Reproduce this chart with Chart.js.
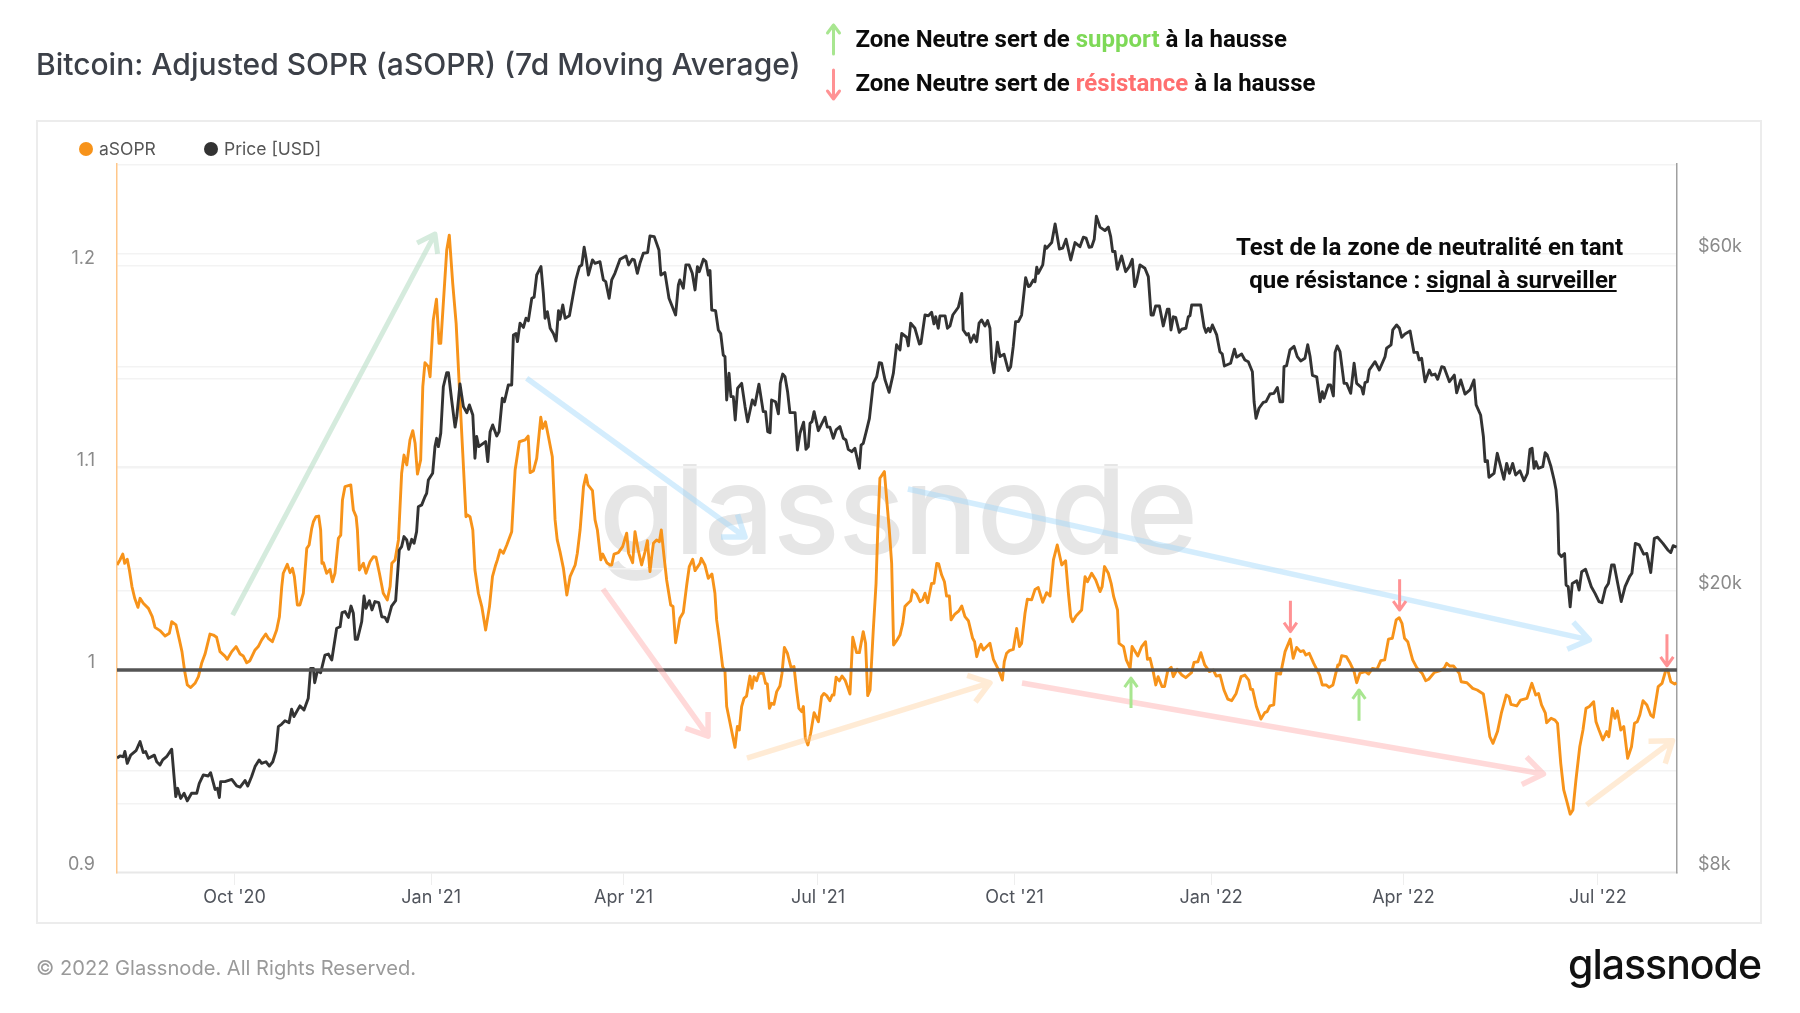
<!DOCTYPE html>
<html lang="fr"><head><meta charset="utf-8">
<title>Bitcoin: Adjusted SOPR (aSOPR)</title>
<script src="https://cdn.jsdelivr.net/npm/chart.js@4"></script>
<style>
html,body{margin:0;padding:0;background:#fff;width:1800px;height:1013px;overflow:hidden}
body{position:relative;font-family:Inter,sans-serif}
.abs{position:absolute;white-space:nowrap;line-height:1}
#frame{position:absolute;left:36px;top:120px;border:2px solid #ececec;box-sizing:content-box;width:1722px;height:800px}
#title{left:36px;top:49px;font-size:30px;font-weight:500;color:#3c4048}
.note{font-family:Roboto,sans-serif;font-weight:700;font-size:24px;color:#0b0b0b}
#watermark{left:599px;top:447px;font-size:124px;font-weight:500;color:#e6e6e6;letter-spacing:-1.5px}
#foot{left:36px;top:958px;font-size:20.1px;color:#9a9a9a}
#logo{left:1568px;top:944px;font-size:41px;font-weight:500;color:#111;letter-spacing:-1px}
.leg{font-size:17.5px;color:#555;top:140px}
.dot{position:absolute;width:14px;height:14px;border-radius:50%;top:142px}
canvas{position:absolute;left:0;top:0}
svg{position:absolute;left:0;top:0}
</style></head><body>
<div id="frame"></div>
<div class="abs" id="watermark">glassnode</div>
<canvas id="c" width="1800" height="1013"></canvas>
<div class="abs" id="title">Bitcoin: Adjusted SOPR (aSOPR) (7d Moving Average)</div>
<svg width="1800" height="110" fill="none" stroke-linecap="round" stroke-linejoin="round" stroke-width="3">
<path d="M833.5 54V25M827.5 33L833.5 25L839.5 33" stroke="#a8e690"/>
<path d="M833.5 70V99M827.5 91L833.5 99L839.5 91" stroke="#ff9294"/>
</svg>
<div class="abs note" style="left:855.4px;top:27px">Zone Neutre sert de <span style="color:#7ed957">support</span> à la hausse</div>
<div class="abs note" style="left:855.4px;top:71px">Zone Neutre sert de <span style="color:#ff6f6f">résistance</span> à la hausse</div>
<div class="abs note" style="left:1236px;top:235px;letter-spacing:.06px">Test de la zone de neutralité en tant</div>
<div class="abs note" style="left:1249.3px;top:268px">que résistance : <u>signal à surveiller</u></div>
<div class="dot" style="left:79px;background:#f7931a"></div><div class="abs leg" style="left:99px">aSOPR</div>
<div class="dot" style="left:204px;background:#333"></div><div class="abs leg" style="left:224px">Price [USD]</div>
<div class="abs" id="foot">© 2022 Glassnode. All Rights Reserved.</div>
<div class="abs" id="logo">glassnode</div>
<script>
const xTickDays=[55,147,237,328,420,512,602,693];
const xTickLabels=["Oct '20","Jan '21","Apr '21","Jul '21","Oct '21","Jan '22","Apr '22","Jul '22"];
const soprTicks=[0.9,0.95,1,1.05,1.1,1.15,1.2,1.25];
const soprTickLabels={0.9:'0.9',1:'1',1.1:'1.1',1.2:'1.2'};
const priceTicks=[8000,10000,20000,30000,40000,60000];
const priceTickLabels={8000:'$8k',20000:'$20k',60000:'$60k'};
const neutralLevel=1;
// [day since 7 Aug 2020, aSOPR]
const asoprSeries=[[0,1.052],[1.4,1.0545],[2.7,1.0574],[3.6,1.0528],[4.8,1.0548],[5.8,1.0495],[7,1.0413],[8.3,1.0355],[9.8,1.031],[10.8,1.0355],[12.3,1.033],[14.7,1.0305],[16.5,1.0264],[17.8,1.0211],[20.1,1.0195],[22.5,1.0168],[24.5,1.0182],[25.6,1.0239],[27.6,1.0223],[29.2,1.0149],[30.4,1.0091],[31.7,0.9992],[32.9,0.9926],[34.5,0.9913],[36.5,0.9934],[38.1,0.9967],[39.6,1.0033],[41.2,1.0079],[43.5,1.0178],[45.1,1.0173],[46.6,1.0162],[48.2,1.0091],[50.5,1.0069],[51.6,1.0053],[53.7,1.0091],[55.7,1.0116],[57.6,1.0079],[59.1,1.0069],[60.7,1.0036],[62.2,1.0046],[64.6,1.0099],[66.1,1.0116],[67.7,1.0149],[69.6,1.0178],[70.8,1.0157],[72.7,1.014],[74.7,1.0198],[76,1.0264],[77.1,1.0413],[77.8,1.0479],[79.7,1.0523],[81,1.0482],[82.1,1.0503],[83,1.0462],[84.4,1.0322],[85.6,1.0322],[87.2,1.038],[88.8,1.0602],[89.9,1.0619],[91.1,1.07],[91.9,1.0734],[93.1,1.0759],[94.4,1.0762],[95.3,1.0693],[95.9,1.0528],[96.6,1.0531],[98.1,1.0479],[99.7,1.0498],[100.8,1.0437],[102,1.0479],[103.6,1.0652],[104.7,1.0668],[105.5,1.0842],[106.7,1.0908],[109.4,1.0916],[110.6,1.0792],[111.9,1.0759],[112.5,1.0693],[113.4,1.0495],[115.3,1.0528],[116.5,1.0479],[118.4,1.0536],[120,1.0561],[121.2,1.0558],[122.8,1.0479],[124.6,1.038],[126.5,1.0347],[127.8,1.0413],[128.6,1.0528],[130.1,1.0545],[131.7,1.0644],[133.2,1.0974],[134.3,1.1064],[135.6,1.1015],[137.1,1.1139],[138.4,1.1185],[139.5,1.1122],[140.6,1.097],[142.1,1.104],[143.1,1.1403],[144.1,1.1521],[145.7,1.1502],[146.5,1.1452],[148,1.1733],[149.5,1.1836],[150.7,1.1617],[151.5,1.1617],[152.7,1.1815],[154.3,1.2079],[155.5,1.2153],[157.1,1.1914],[158.7,1.1716],[160.2,1.1403],[161.8,1.1073],[163.3,1.0759],[164,1.0767],[165.2,1.0759],[166.5,1.0693],[167.5,1.0495],[169.1,1.038],[170.7,1.0314],[172.5,1.0198],[174.3,1.0314],[175.7,1.0462],[177.2,1.052],[178,1.0545],[179.3,1.0594],[180.8,1.0578],[182.4,1.0619],[184.7,1.0685],[186.3,1.099],[188.3,1.113],[191,1.1139],[192.4,1.1158],[193.3,1.0977],[194.9,1.0987],[196.4,1.1048],[198.3,1.1251],[199.2,1.1196],[200.5,1.1229],[201.9,1.1155],[203.7,1.1056],[205,1.0743],[206,1.0644],[207.3,1.0586],[208.9,1.0503],[210.5,1.0371],[212,1.0462],[214.4,1.052],[215.4,1.0578],[216.7,1.0693],[218.3,1.0908],[219.5,1.0965],[220.4,1.0916],[222.5,1.0888],[223.7,1.0743],[224.8,1.0693],[226.4,1.0545],[227.3,1.0574],[229.2,1.0531],[230.7,1.052],[231.5,1.052],[232.6,1.0574],[234.6,1.0581],[236.6,1.0611],[238.5,1.0677],[239.4,1.0578],[241.3,1.0531],[242.4,1.0685],[243.9,1.0594],[245.5,1.052],[247.1,1.0586],[248.2,1.064],[249.4,1.0487],[251,1.0627],[252.5,1.0644],[253.8,1.0635],[254.7,1.0693],[256,1.0561],[257.2,1.0446],[259.1,1.0322],[260.2,1.0314],[261.4,1.0135],[263.4,1.0256],[265,1.0285],[266.6,1.0421],[267.8,1.0512],[269.4,1.0548],[270.5,1.0492],[272.8,1.0528],[273.4,1.0553],[275.1,1.052],[276.7,1.0454],[278.4,1.0475],[279.8,1.038],[280.6,1.0248],[281.9,1.0149],[283.4,1.0017],[284.5,0.9992],[285.3,0.9819],[287.2,0.972],[289.2,0.9617],[290.3,0.972],[291.2,0.9703],[292.3,0.9819],[293.4,0.986],[294.6,0.9871],[296.2,0.997],[297.1,0.9909],[298.1,0.9967],[299.3,0.9947],[300.4,0.9984],[302.4,0.9984],[303.5,0.9934],[304.3,0.9931],[305.3,0.981],[306.3,0.9835],[307.4,0.983],[308.7,0.9893],[310.2,0.9921],[311.2,0.9984],[312.3,1.0112],[313.7,1.0083],[315.4,1.0013],[316.8,1.0017],[318,0.9901],[319.1,0.981],[320.4,0.9794],[321.2,0.9819],[322.1,0.9662],[323.3,0.9629],[324.6,0.9687],[326.2,0.9789],[328.2,0.9744],[329.7,0.9868],[330.8,0.9884],[332.1,0.9873],[333.6,0.9848],[334.7,0.9876],[335.5,0.9876],[336.5,0.9964],[338,0.9946],[339.3,0.997],[340.7,0.995],[341.8,0.9918],[343,0.9881],[344.3,1.0162],[346.1,1.0086],[347.4,1.0086],[349.2,1.019],[350.3,1.0132],[351.3,0.9873],[352.4,0.9901],[353.9,1.0198],[355.2,1.0429],[356,1.0693],[357,1.0949],[359.1,1.0982],[360.2,1.0842],[361.4,1.0693],[362.5,1.0528],[363.4,1.0124],[364.8,1.0145],[366.4,1.0173],[367.7,1.0231],[368.7,1.0314],[369.8,1.0327],[371.4,1.0343],[372.3,1.0396],[374.2,1.0376],[375.8,1.0338],[377,1.0347],[378.1,1.038],[379.4,1.0333],[381.2,1.0429],[382.3,1.0429],[383.6,1.0528],[384.5,1.0525],[385.9,1.047],[387.2,1.0437],[388.2,1.0366],[389.5,1.0366],[390.3,1.0248],[392.1,1.0277],[393.9,1.0292],[395.3,1.0317],[396.8,1.0264],[398.4,1.0244],[400.4,1.0157],[401.3,1.014],[402.3,1.0066],[403.4,1.0107],[404.3,1.0127],[405.4,1.0099],[407,1.0116],[408.5,1.0132],[410.1,1.0053],[412.4,1.0003],[414.3,0.995],[415.2,1.0041],[416.3,1.0083],[417.6,1.0096],[419.4,1.0102],[421,1.0206],[422.3,1.0116],[423.3,1.0132],[424.9,1.0281],[426,1.035],[428,1.0347],[429.6,1.0399],[431.1,1.0408],[433.2,1.0335],[435,1.0383],[436.6,1.0366],[438.2,1.0545],[440,1.0619],[442.1,1.052],[443.9,1.0541],[445.2,1.038],[446.3,1.0264],[447.2,1.0239],[448.8,1.0267],[451.4,1.0297],[453,1.0462],[454.1,1.0437],[456.1,1.0479],[458,1.0446],[460,1.0388],[461,1.0413],[462.1,1.0512],[463.9,1.0479],[465.2,1.0429],[466.4,1.0363],[468.2,1.0297],[468.9,1.0132],[471,1.0116],[472.3,1.005],[474.1,1.0008],[475,1.0116],[477.7,1.0069],[479.5,1.0116],[481.3,1.014],[482.2,1.0053],[483.4,1.0058],[484.9,0.9992],[486.1,0.9926],[487.2,0.9967],[489,0.9918],[490.2,0.9918],[491.7,0.9997],[493.3,1.0013],[494.3,0.9967],[496.1,1.0003],[498.3,0.9975],[500.1,0.9962],[502.8,0.9987],[504,1.0038],[505.8,1.0041],[507.2,1.0086],[509,1.0025],[511.2,0.9992],[513,1],[514.4,0.997],[516.2,0.9974],[518,0.9901],[519.8,0.9856],[521.6,0.9848],[523.7,0.9884],[526,0.9967],[527.8,0.9975],[529.6,0.995],[530.5,0.9904],[531.4,0.9904],[533.2,0.9819],[535.3,0.9757],[537.1,0.9789],[538.2,0.9794],[539.5,0.9822],[541.3,0.9827],[542.5,0.9984],[544.5,0.998],[546.6,1.0091],[549,1.0153],[550.4,1.0058],[552,1.0112],[553.8,1.0091],[555.2,1.0096],[556.3,1.0074],[557.9,1.0083],[560,1.0033],[562.8,0.9975],[564,0.9926],[565.8,0.9926],[567.2,0.9914],[569,0.9926],[571.3,1.0025],[572,1.0025],[573.1,1.0071],[575.3,1.0066],[577.1,1.0033],[578.9,0.9992],[580.1,0.9937],[581.6,0.9984],[584.2,0.9992],[585.7,0.998],[587.5,1.0008],[589.6,1.0003],[591.4,1.0046],[593.2,1.005],[595,1.0153],[596.8,1.0157],[598.6,1.0248],[600,1.0259],[601.3,1.0231],[602.5,1.0157],[604,1.014],[606.3,1.005],[608.4,1.0008],[610.7,0.9984],[612.4,0.9947],[613.8,0.9954],[616.5,0.9988],[619.2,0.9997],[621,1.0008],[622.2,1.0033],[623.6,1.002],[625.4,1.002],[628.1,0.9984],[629,0.9942],[631.7,0.9937],[634.4,0.9909],[636.5,0.9901],[639.4,0.9881],[640.7,0.9794],[642.4,0.967],[643.9,0.9637],[646,0.9695],[647.8,0.9786],[650.1,0.9876],[651.4,0.9868],[652.3,0.983],[655,0.9822],[656.8,0.9851],[659.8,0.986],[662.1,0.9934],[663.9,0.9876],[665.2,0.9884],[666.6,0.9827],[668.4,0.9786],[669,0.9739],[671.1,0.9761],[672.9,0.9752],[674.1,0.9736],[675.6,0.9538],[677,0.9406],[678.3,0.9356],[680,0.9286],[681.3,0.9307],[682.7,0.9455],[684.5,0.962],[686,0.9703],[687.4,0.981],[689,0.9819],[691,0.9843],[692.1,0.9744],[693.5,0.9703],[695.3,0.9654],[697.1,0.9695],[698.1,0.967],[699.8,0.981],[701,0.9761],[702.1,0.9797],[703.7,0.9703],[705.1,0.972],[706.9,0.9563],[708.7,0.962],[710.1,0.9736],[711.4,0.9744],[712.6,0.9777],[714.1,0.9848],[715.9,0.9827],[717.7,0.9777],[718.9,0.9766],[721.2,0.9918],[723,0.9934],[724.8,1],[725.7,1],[727.1,0.9942],[728.9,0.9931],[729.8,0.9937]];
// [day since 7 Aug 2020, price in USD]
const priceSeries=[[0,11602],[1.4,11680],[3,11650],[3.7,11850],[4.8,11400],[6.4,11710],[8.9,11880],[10.8,12240],[12.3,11810],[13.4,11850],[14.7,11590],[17.5,11710],[18.6,11460],[20.1,11340],[21.4,11530],[23.2,11650],[25.6,11940],[27.5,10230],[28.4,10510],[29.8,10170],[31.4,10340],[32.9,10090],[34.9,10340],[37.3,10340],[38.5,10680],[40.4,10980],[42.7,10940],[43.8,11060],[45.9,10470],[47,10510],[47.9,10200],[48.5,10740],[50.5,10740],[53.7,10820],[56,10590],[57.6,10550],[59.9,10780],[61.2,10590],[63,10920],[64.6,11280],[66.5,11530],[67.7,11400],[69.7,11460],[71.3,11300],[72.9,11460],[74.4,11880],[75.5,12850],[77.1,12960],[78.6,13100],[80.5,13020],[81.7,13600],[82.8,13280],[85.6,13750],[87.5,13570],[89.5,14100],[90.6,15540],[91.9,15540],[92.5,14830],[93.8,15420],[95.3,15320],[97.3,16230],[98.9,16280],[100.5,15970],[102.8,17710],[104.4,17800],[105.3,18640],[106.7,18700],[108.3,18350],[109.5,19040],[110.6,18600],[111.5,17080],[112.5,17080],[114.5,18090],[115.6,19680],[116.5,18900],[118.1,19380],[119.3,18800],[120.7,19320],[122.5,19250],[123.9,18390],[125.4,18350],[126.5,18090],[128.5,19040],[130.4,19380],[132.1,22860],[133.2,23110],[134.3,23880],[135.6,23620],[136.5,22910],[137.9,23670],[139,23360],[140.2,24270],[141,26320],[142.6,26480],[144.1,27190],[144.9,27490],[145.7,28720],[147.7,29350],[148.8,32020],[149.6,32900],[150.4,32020],[151.5,33440],[152.7,38920],[154.3,40750],[155.1,40750],[156.6,37280],[158.2,34120],[159,35310],[160.5,39280],[162.1,36480],[163.7,35760],[164.9,36680],[166.5,35500],[167.5,30830],[168.3,33090],[169.3,32020],[172.5,32550],[173.5,30490],[174.6,33620],[175.8,34370],[177.7,33150],[178.8,33620],[180.3,37490],[181.3,37070],[183.1,39140],[184.7,39140],[185.5,46090],[186.7,46300],[187.4,45090],[188.6,47890],[190.2,47230],[191.4,48670],[192.5,48290],[194.1,51950],[195.2,52130],[196.4,56040],[198.4,57590],[199.5,52800],[200.3,48670],[201.4,49720],[202.7,47100],[204.2,46300],[205.5,45190],[206.6,49890],[207.3,48500],[208.6,50820],[209.7,48670],[211.7,49050],[213.3,52240],[214.7,55140],[216.4,57590],[217.5,57900],[218.6,61340],[219.5,59180],[220.6,56040],[222.5,58850],[223.7,58210],[226,58530],[227.6,55140],[228.7,54830],[230.3,51950],[231.5,55140],[233,56340],[235.4,58990],[238.2,59630],[239.4,57910],[241.1,58990],[242.1,58850],[243.5,56340],[244.7,58210],[246.3,60150],[248.3,60280],[249.4,63650],[251.4,63500],[253.6,60800],[254.5,56040],[256.4,56470],[258.3,51950],[261.4,49180],[262.7,54250],[263.4,55140],[265,53670],[266.2,57910],[267.7,57910],[269.2,56340],[270.5,53370],[271.6,57590],[272.5,56650],[274.4,58990],[275.6,58530],[276.7,56040],[277.5,56840],[278.3,50000],[280.1,49890],[281.4,46840],[282.5,46300],[283.7,43150],[284.5,42950],[285.3,37280],[286.4,40670],[287.3,37690],[288.4,37690],[289.3,34930],[290.4,38730],[292.3,39360],[293.9,36480],[295.1,34730],[297.3,37280],[298.5,36680],[300.4,39260],[302.4,35890],[303.5,35890],[304.5,33620],[305.6,33510],[306.3,37280],[308.2,37070],[309.5,35630],[310.4,39360],[311.5,40570],[312.6,40210],[313.8,38300],[314.9,35770],[317.3,35770],[318.4,31670],[319.6,33440],[321.3,34670],[322.4,31740],[323.5,32020],[324.3,34540],[325.2,34730],[326.2,35890],[328.2,33730],[331.3,35250],[332.4,34120],[333.6,34120],[335.2,32900],[336.5,33810],[338.3,34180],[339.9,32900],[341.1,32720],[342.2,31740],[343.8,31500],[345.3,31850],[347.4,29830],[348.2,32190],[349.2,32370],[350.8,33810],[352.1,35120],[353.9,39360],[355.5,40210],[356.7,42100],[357.8,42020],[359.4,39800],[361.3,38220],[363.3,40670],[364.8,44630],[366.4,43890],[367.2,46300],[369.5,45740],[370.3,44470],[371.4,47890],[373.4,47100],[375.5,44740],[376.2,44840],[378.1,49180],[379.7,49070],[381.2,49620],[382.3,47780],[383.1,48900],[384.3,47100],[385.1,49050],[387.5,49050],[388.6,47100],[389.8,47460],[391.1,49180],[393.7,50440],[395.3,52780],[396,46840],[397.6,46090],[398.4,46300],[399.5,45000],[401,46090],[402.3,45090],[403.4,47890],[404.6,48400],[406.2,47460],[407.4,48290],[408.5,47100],[409.3,42480],[410.4,40750],[412,45000],[413.2,42950],[415.1,43270],[417.1,41030],[418.2,41560],[419.4,44400],[420.5,48130],[421.8,48130],[423.3,49180],[425.2,55560],[426.5,53950],[427.2,54070],[428.8,55140],[429.6,54830],[430.4,57480],[431.1,56340],[433.2,57910],[434.3,61600],[435,61150],[437.4,62280],[439,66200],[441,60980],[442.5,61150],[444.1,62970],[446.3,58850],[448.3,62280],[450.6,61450],[452.2,63380],[453.5,63180],[454.9,61350],[456.1,61450],[457.3,62970],[458.3,67900],[460,65500],[462.3,64760],[463.9,65500],[465,63500],[465.9,60500],[467,60500],[468.1,57100],[470.1,59640],[472,56650],[473.7,57590],[475.1,58990],[476.2,53950],[477.1,54830],[478.7,57910],[481,57280],[482.6,55740],[483.9,49180],[484.9,49180],[486,50640],[487.8,50640],[489.6,47460],[491.5,50110],[492.3,50110],[493.2,46840],[494.3,48900],[495.4,48790],[497.1,46470],[498.2,46950],[500.2,47100],[501.3,48900],[502.1,49050],[502.9,50820],[507.1,50820],[508.7,47340],[509.6,46470],[510.7,47100],[511.5,46580],[512.6,47610],[514.6,46090],[516.1,43640],[517.2,43300],[518.2,41650],[521.1,42020],[522.9,43990],[523.9,42870],[526.3,43300],[527.8,42480],[529.4,42240],[531.3,40880],[532.1,37070],[533,35120],[534.4,36290],[536.4,36980],[537.7,37070],[539.5,38010],[541.4,38100],[543,38820],[544.2,37070],[545.5,37070],[546.1,41560],[547.3,41700],[548.9,43890],[550.8,44400],[552.3,42950],[553.9,42340],[555.9,42720],[557.2,44630],[558.3,42950],[559.4,40400],[561.4,40210],[563,37070],[564,38300],[564.8,37490],[566.8,39140],[567.9,39140],[569.2,37780],[570,43540],[571,44470],[572.3,43640],[574.2,39360],[575.4,39360],[577.3,38100],[578.9,42020],[580.1,39360],[582.4,38820],[583.2,38000],[584,39450],[585.1,39570],[586,41110],[588.7,42240],[590.7,41110],[593.4,42950],[594.1,44130],[596.2,44630],[597,46840],[598.8,47610],[600.1,47100],[601.2,45740],[602.7,46240],[605.1,46680],[606.9,43540],[608.5,43540],[609.3,42480],[610.5,42720],[612.1,39570],[614.1,41110],[615.2,40430],[616.8,40570],[618,39880],[619.9,41560],[621,41470],[623.5,39570],[625.8,40430],[626.9,38170],[628.8,39800],[630.8,38000],[633.1,38520],[635,39800],[636,36680],[638.1,35500],[639.4,33090],[640.2,30490],[641.3,30590],[642,28980],[644.4,29350],[645.9,31330],[647.5,29990],[649,28790],[650.3,30320],[651.6,29350],[653.1,30320],[654.5,29190],[656.5,29600],[658.4,28650],[660,29350],[661.2,31740],[662.2,31850],[663.1,29830],[664,30490],[665.1,29830],[667.2,29990],[668.3,31390],[669.3,31150],[670.9,30090],[672.5,28720],[673.4,27800],[674.2,25770],[674.7,22600],[675.9,22370],[677.4,22600],[678.1,20390],[679.1,20280],[680,18990],[681,20500],[683.1,20680],[684.2,20060],[685.4,21300],[687.2,21470],[689.9,20280],[691.7,19830],[693.5,19320],[694.9,19250],[696.5,20180],[697.9,20500],[699.4,21770],[700.6,21770],[702.4,20390],[703.9,19320],[705.7,20280],[707.8,20960],[708.9,21190],[710.5,23360],[712.3,23240],[714.4,22550],[715.9,22600],[717.7,21240],[719.4,23750],[720.9,23830],[723.4,23360],[725.7,22860],[727.1,22670],[728.2,23180],[729.8,23080]];
// annotation arrows on the aSOPR axis: [day from, value from, day to, value to]
const greenTrend=[54.1,1.0272,148.8,1.2158];
const blueTrends=[[191.7,1.1444,293.9,1.0658],[370.1,1.0896,689,1.0149]];
const pinkTrends=[[227.4,1.0401,276.6,0.9673],[423.5,0.9936,667.5,0.9485]];
const peachTrends=[[294.8,0.9564,408.5,0.9936],[687.7,0.9332,727.9,0.965]];
const supportMarks=[[474.5,0.9812,474.5,0.996],[581.2,0.9749,581.2,0.9901]];
const resistanceMarks=[[549.1,1.0343,549.1,1.019],[600.2,1.0449,600.2,1.0297],[725.3,1.0177,725.3,1.0021]];

function drawArrows(ctx,sx,sy,list,color,width,head){
  ctx.save();ctx.strokeStyle=color;ctx.lineWidth=width;ctx.lineCap='butt';ctx.lineJoin='round';
  list.forEach(a=>{
    const x0=sx.getPixelForValue(a[0]),y0=sy.getPixelForValue(a[1]),x1=sx.getPixelForValue(a[2]),y1=sy.getPixelForValue(a[3]);
    const t=Math.atan2(y1-y0,x1-x0),s=0.62;
    ctx.beginPath();ctx.moveTo(x0,y0);ctx.lineTo(x1,y1);
    ctx.moveTo(x1-head*Math.cos(t-s),y1-head*Math.sin(t-s));ctx.lineTo(x1,y1);ctx.lineTo(x1-head*Math.cos(t+s),y1-head*Math.sin(t+s));
    ctx.stroke();
  });
  ctx.restore();
}
const arrowPlugin={id:'arrows',afterDatasetsDraw(chart){
  const c=chart.ctx,sx=chart.scales.x,sy=chart.scales.y;
  drawArrows(c,sx,sy,[greenTrend],'rgba(178,219,193,.55)',5,20);
  drawArrows(c,sx,sy,blueTrends,'rgba(160,215,250,.45)',5.5,24);
  drawArrows(c,sx,sy,pinkTrends,'rgba(255,170,170,.45)',5.5,24);
  drawArrows(c,sx,sy,peachTrends,'rgba(255,205,150,.4)',5.5,24);
  drawArrows(c,sx,sy,supportMarks,'#a8e690',3,11);
  drawArrows(c,sx,sy,resistanceMarks,'#ff9294',3,11);
}};
const pts=s=>s.map(p=>({x:p[0],y:p[1]}));
new Chart(document.getElementById('c'),{
  type:'line',
  data:{datasets:[
    {label:'Neutral',data:[{x:0,y:neutralLevel},{x:730,y:neutralLevel}],yAxisID:'y',borderColor:'#555',borderWidth:3.5,pointRadius:0,order:0},
    {label:'Price [USD]',data:pts(priceSeries),yAxisID:'yP',borderColor:'#333333',borderWidth:2.9,pointRadius:0,tension:0,borderJoinStyle:'round',order:1},
    {label:'aSOPR',data:pts(asoprSeries),yAxisID:'y',borderColor:'#f7931a',borderWidth:2.9,pointRadius:0,tension:0,borderJoinStyle:'round',order:2}
  ]},
  plugins:[arrowPlugin],
  options:{
    responsive:false,animation:false,
    layout:{padding:{left:50,top:164,right:40,bottom:91}},
    plugins:{legend:{display:false},tooltip:{enabled:false},title:{display:false}},
    scales:{
      x:{type:'linear',min:0,max:730,
        afterBuildTicks:a=>{a.ticks=xTickDays.map(v=>({value:v}))},
        afterFit:a=>{a.height=49},
        border:{color:'#e8e8e8',width:1.5},
        grid:{drawOnChartArea:false,drawTicks:true,tickLength:12,tickColor:'#eeeeee'},
        ticks:{autoSkip:false,maxRotation:0,padding:2,color:'#50545c',font:{family:'Inter',size:18},
          callback:v=>xTickLabels[xTickDays.indexOf(v)]}},
      y:{type:'linear',position:'left',min:0.8995,max:1.2505,
        afterBuildTicks:a=>{a.ticks=soprTicks.map(v=>({value:v}))},
        afterFit:a=>{a.width=67},
        border:{color:'#ffc78a',width:1.5},
        grid:{color:'#f3f3f3',lineWidth:1.5,drawTicks:false},
        ticks:{autoSkip:false,padding:22,labelOffset:-7,color:'#8a8a8a',font:{family:'Inter',size:18},
          callback:v=>soprTickLabels[v]||''}},
      yP:{type:'logarithmic',position:'right',min:7974,max:80470,
        afterBuildTicks:a=>{a.ticks=priceTicks.map(v=>({value:v}))},
        afterFit:a=>{a.width=83},
        border:{color:'#a0a0a0',width:1.5},
        grid:{color:'#f3f3f3',lineWidth:1.5,drawTicks:false},
        ticks:{autoSkip:false,padding:21,labelOffset:-7,color:'#8a8a8a',font:{family:'Inter',size:18},
          callback:v=>priceTickLabels[v]||''}}
    }
  }
});
</script>
</body></html>
